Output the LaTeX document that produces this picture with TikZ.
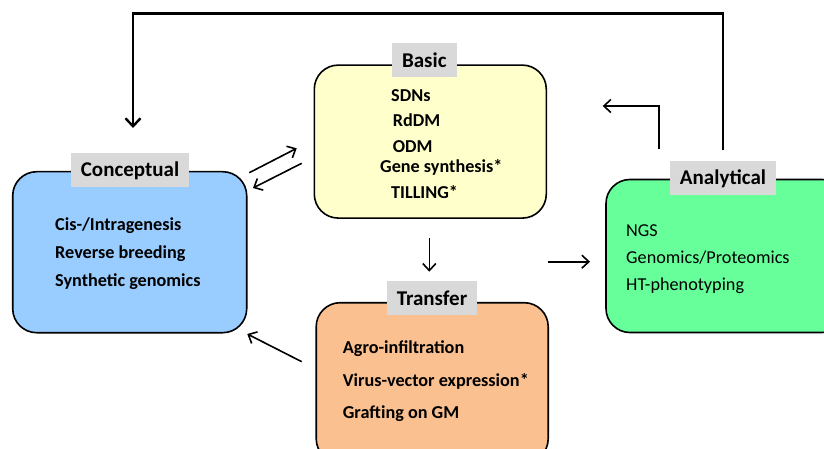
\documentclass[tikz,border=0pt]{standalone}
\usepackage{fontspec}
\setmainfont{Carlito}
\usetikzlibrary{arrows.meta}
\definecolor{concblue}{RGB}{153,204,255}
\definecolor{basicyel}{RGB}{255,255,204}
\definecolor{transor}{RGB}{250,192,144}
\definecolor{analgreen}{RGB}{102,255,153}
\definecolor{taggrey}{RGB}{217,217,217}
\tikzset{
  areabox/.style={draw,line width=1.6pt,rounded corners=24pt,inner sep=0pt},
  areatag/.style={fill=taggrey,inner xsep=10pt,inner ysep=0pt,minimum height=34pt,
    font=\bfseries\fontsize{21}{21}\selectfont},
  item/.style={anchor=base west,inner sep=0pt,font=\bfseries\fontsize{18.2}{18.2}\selectfont},
  itemlight/.style={anchor=base west,inner sep=0pt,font=\fontsize{18.2}{18.2}\selectfont},
  flow/.style={line width=1.6pt,-{Straight Barb[length=7pt,width=13pt,line width=1.6pt]}},
}
\begin{document}
\begin{tikzpicture}[x=1pt,y=-1pt]
\useasboundingbox(0,0) rectangle (824,449);
\clip(0,0) rectangle (824,449);
%
\node[areabox,fill=concblue,minimum width=234pt,minimum height=161pt](concept) at (129.7,252.2) {};
\node[areabox,fill=basicyel,minimum width=232pt,minimum height=153pt](basic) at (430.3,141.6) {};
\node[areabox,fill=transor,minimum width=232pt,minimum height=160pt](transfer) at (432.2,382.7) {};
\node[areabox,fill=analgreen,minimum width=240pt,minimum height=153pt](analyt) at (726,256) {};
%
\node[areatag](concepttag) at (130,170.3) {Conceptual};
\node[areatag](basictag) at (424.3,60.3) {Basic};
\node[areatag](transfertag) at (432,298.3) {Transfer};
\node[areatag](analyttag) at (723,178.5) {Analytical};
%
\node[item](c1) at (55,230.7) {Cis-/Intragenesis};
\node[item](c2) at (55,258) {Reverse breeding};
\node[item](c3) at (55,286.7) {Synthetic genomics};
%
\node[item](b1) at (391,101.7) {SDNs};
\node[item](b2) at (392.7,127) {RdDM};
\node[item](b3) at (392.7,153) {ODM};
\node[item](b4) at (380,173) {Gene synthesis*};
\node[item](b5) at (391,199) {TILLING*};
%
\node[item](t1) at (342.7,353) {Agro-infiltration};
\node[item](t2) at (342.7,386) {Virus-vector expression*};
\node[item](t3) at (342.7,418) {Grafting on GM};
%
\node[itemlight](a1) at (626,236.7) {NGS};
\node[itemlight](a2) at (626,263) {Genomics/Proteomics};
\node[itemlight](a3) at (626,290) {HT-phenotyping};
%
\coordinate(loopstart) at (723,150);
\coordinate(loopend) at (133,128);
\coordinate(backstart) at (659,149.3);
\coordinate(backend) at (602.7,106);
\coordinate(cbfrom) at (249.3,172.7);
\coordinate(cbto) at (296.7,148.3);
\coordinate(bcfrom) at (301.7,163.3);
\coordinate(bcto) at (253,188);
\coordinate(btfrom) at (429.3,238.3);
\coordinate(btto) at (429.3,271.7);
\coordinate(tafrom) at (547.7,261.7);
\coordinate(tato) at (590,261.7);
\coordinate(tcfrom) at (301.7,361.7);
\coordinate(tcto) at (247.3,334);
%
\draw[flow,line width=2.8pt,-{Straight Barb[length=8pt,width=15pt,line width=2.4pt]}](loopstart)--(723,13.5)--(133,13.5)--(loopend);
\draw[flow](backstart)--(backstart|-backend)--(backend);
\draw[flow](cbfrom)--(cbto);
\draw[flow](bcfrom)--(bcto);
\draw[flow](btfrom)--(btto);
\draw[flow](tafrom)--(tato);
\draw[flow](tcfrom)--(tcto);
\end{tikzpicture}
\end{document}
